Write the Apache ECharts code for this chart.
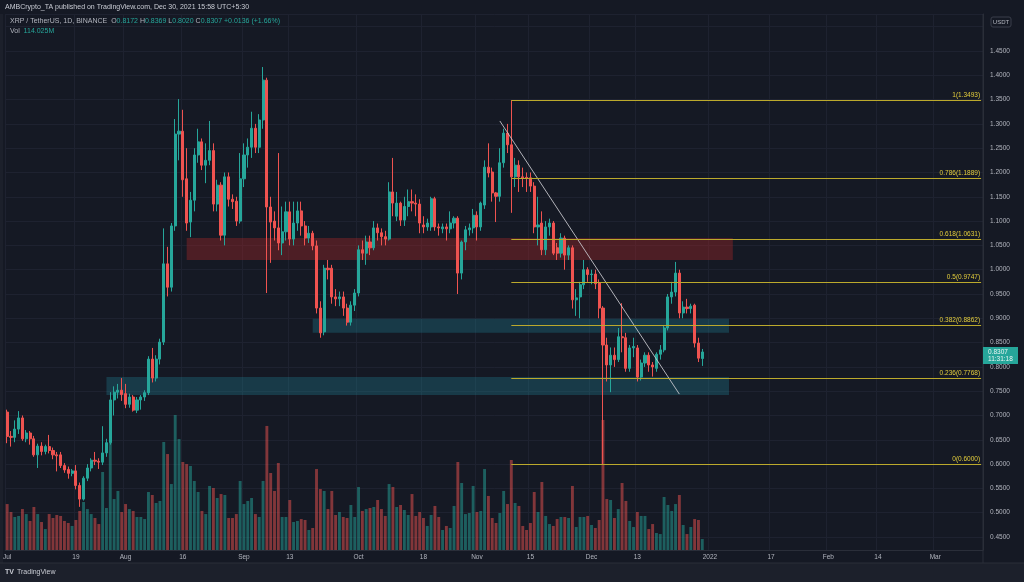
<!DOCTYPE html>
<html>
<head>
<meta charset="utf-8">
<script src="https://cdn.jsdelivr.net/npm/echarts@6/dist/echarts.min.js"></script>
<style>
html,body{margin:0;padding:0;background:#151924;}
#chart{width:1024px;height:582px;}
</style>
</head>
<body>
<div id="chart"></div>
<script>
// ---- categories ----
const startDate = '2021-07-01';
const dayCount = 256;

// ---- x tick labels ----
const tickLabels = [
  ['2021-07-01','Jul'],['2021-07-19','19'],['2021-08-01','Aug'],['2021-08-16','16'],
  ['2021-09-01','Sep'],['2021-09-13','13'],['2021-10-01','Oct'],['2021-10-18','18'],
  ['2021-11-01','Nov'],['2021-11-15','15'],['2021-12-01','Dec'],['2021-12-13','13'],
  ['2022-01-01','2022'],['2022-01-17','17'],['2022-02-01','Feb'],['2022-02-14','14'],
  ['2022-03-01','Mar']
];

// ---- OHLC (XRP/USDT daily from 2021-07-01) ----
const opens = [
0.707,0.657,0.655,0.672,0.695,0.652,0.664,0.652,0.619,0.637,
0.626,0.636,0.628,0.619,0.619,0.597,0.589,0.581,0.586,0.556,
0.528,0.571,0.592,0.608,0.606,0.604,0.623,0.644,0.732,0.748,
0.752,0.745,0.723,0.738,0.711,0.732,0.738,0.747,0.816,0.777,
0.816,0.851,1.012,0.964,1.090,1.279,1.285,1.187,1.098,1.143,
1.236,1.263,1.215,1.225,1.245,1.135,1.174,1.071,1.191,1.145,
1.141,1.100,1.187,1.236,1.252,1.291,1.252,1.308,1.390,1.129,
1.100,1.086,1.055,1.078,1.119,1.063,1.096,1.121,1.090,1.065,
1.075,1.049,0.921,0.872,1.003,1.003,0.944,0.940,0.944,0.921,
0.892,0.927,0.952,1.041,1.034,1.057,1.045,1.086,1.076,1.068,
1.063,1.160,1.110,1.137,1.102,1.130,1.140,1.137,1.135,1.092,
1.088,1.088,1.146,1.088,1.084,1.088,1.084,1.096,1.106,0.993,
1.057,1.082,1.086,1.112,1.088,1.133,1.211,1.201,1.158,1.151,
1.220,1.281,1.257,1.191,1.215,1.191,1.190,1.189,1.172,1.088,
1.096,1.041,1.088,1.096,1.045,1.034,1.065,1.030,1.045,0.938,
0.944,0.969,1.000,0.990,0.991,0.973,0.921,0.845,0.804,0.824,
0.815,0.862,0.860,0.797,0.839,0.839,0.779,0.808,0.824,0.804,
0.797,0.826,0.835,0.880,0.944,0.954,0.993,0.911,0.923,0.920,
0.927,0.849,0.8172];
const closes = [
0.657,0.655,0.672,0.695,0.652,0.664,0.652,0.619,0.637,0.626,
0.636,0.628,0.619,0.617,0.597,0.588,0.581,0.586,0.556,0.528,
0.571,0.592,0.608,0.606,0.604,0.623,0.644,0.732,0.748,0.752,
0.743,0.723,0.738,0.711,0.732,0.738,0.747,0.816,0.777,0.816,
0.851,1.012,0.964,1.090,1.279,1.285,1.185,1.096,1.143,1.236,
1.263,1.215,1.225,1.245,1.135,1.174,1.071,1.191,1.145,1.140,
1.100,1.187,1.236,1.252,1.291,1.252,1.308,1.390,1.129,1.098,
1.086,1.055,1.078,1.119,1.063,1.096,1.121,1.090,1.065,1.075,
1.049,0.921,0.870,1.003,1.000,0.944,0.940,0.944,0.921,0.892,
0.927,0.952,1.041,1.034,1.057,1.045,1.086,1.076,1.068,1.063,
1.160,1.137,1.137,1.102,1.130,1.140,1.137,1.135,1.096,1.088,
1.096,1.146,1.088,1.086,1.088,1.084,1.096,1.106,0.993,1.057,
1.082,1.086,1.112,1.088,1.137,1.211,1.199,1.158,1.151,1.220,
1.281,1.257,1.191,1.215,1.191,1.189,1.188,1.172,1.088,1.092,
1.041,1.088,1.096,1.034,1.034,1.065,1.030,1.045,0.938,0.942,
0.969,1.000,0.990,0.991,0.971,0.921,0.845,0.804,0.824,0.815,
0.862,0.860,0.797,0.839,0.842,0.779,0.808,0.824,0.804,0.800,
0.826,0.835,0.880,0.944,0.954,0.993,0.911,0.923,0.920,0.925,
0.849,0.818,0.8307];
const lows = [
0.643,0.636,0.645,0.662,0.648,0.645,0.640,0.615,0.592,0.618,
0.620,0.622,0.610,0.585,0.592,0.582,0.570,0.575,0.548,0.512,
0.525,0.565,0.585,0.598,0.590,0.598,0.615,0.640,0.700,0.735,
0.730,0.715,0.716,0.708,0.705,0.712,0.730,0.742,0.768,0.770,
0.805,0.845,0.945,0.955,1.080,1.225,1.150,1.080,1.067,1.120,
1.220,1.205,1.178,1.215,1.120,1.120,1.060,1.050,1.130,1.125,
1.090,1.095,1.170,1.210,1.230,1.240,1.240,1.290,0.952,1.014,
1.060,1.040,1.030,1.060,1.050,1.050,1.080,1.070,1.050,1.055,
1.040,0.910,0.860,0.865,0.980,0.930,0.925,0.925,0.905,0.885,
0.885,0.915,0.945,1.020,1.010,1.030,1.040,1.060,1.050,1.050,
1.060,1.110,1.100,1.090,1.090,1.110,1.120,1.110,1.075,1.075,
1.080,1.080,1.080,1.070,1.075,1.060,1.075,1.085,0.950,0.980,
1.040,1.070,1.075,1.060,1.080,1.125,1.190,1.140,1.098,1.140,
1.210,1.240,1.117,1.170,1.160,1.170,1.160,1.160,1.075,1.050,
1.030,1.030,1.070,1.030,1.020,1.025,1.000,1.020,0.920,0.905,
0.900,0.960,0.975,0.970,0.960,0.900,0.600,0.770,0.748,0.800,
0.810,0.830,0.790,0.790,0.820,0.770,0.772,0.800,0.790,0.780,
0.790,0.815,0.830,0.875,0.930,0.945,0.900,0.900,0.910,0.910,
0.840,0.810,0.8020];
const highs = [
0.712,0.668,0.690,0.709,0.700,0.670,0.668,0.658,0.642,0.645,
0.640,0.660,0.634,0.625,0.625,0.602,0.595,0.590,0.598,0.562,
0.575,0.600,0.612,0.625,0.612,0.678,0.652,0.748,0.760,0.765,
0.777,0.765,0.745,0.742,0.738,0.742,0.752,0.822,0.839,0.824,
0.858,1.085,1.047,1.096,1.310,1.351,1.329,1.250,1.160,1.250,
1.290,1.270,1.260,1.306,1.260,1.185,1.180,1.200,1.200,1.155,
1.150,1.240,1.260,1.270,1.325,1.300,1.320,1.417,1.395,1.150,
1.120,1.240,1.130,1.140,1.140,1.140,1.140,1.140,1.100,1.090,
1.080,1.060,0.935,1.010,1.020,1.010,0.960,0.955,0.955,0.930,
0.935,0.960,1.050,1.060,1.070,1.070,1.100,1.095,1.085,1.080,
1.180,1.230,1.160,1.140,1.150,1.165,1.165,1.155,1.145,1.110,
1.105,1.150,1.150,1.095,1.095,1.095,1.120,1.110,1.110,1.060,
1.090,1.095,1.125,1.120,1.140,1.225,1.260,1.210,1.160,1.250,
1.290,1.300,1.349,1.230,1.225,1.210,1.200,1.200,1.180,1.150,
1.120,1.100,1.105,1.100,1.055,1.075,1.070,1.050,1.050,0.960,
0.975,1.020,1.005,1.000,1.000,0.980,0.925,0.860,0.840,0.840,
0.880,0.931,0.870,0.845,0.860,0.845,0.815,0.830,0.830,0.810,
0.830,0.845,0.885,0.950,0.975,1.016,1.000,0.935,0.940,0.930,
0.930,0.860,0.8369];
// volume in millions of XRP
const volumes = [
478,395,343,354,426,374,302,447,374,291,
218,374,333,364,354,302,281,250,312,406,
499,426,374,333,270,811,437,1113,530,614,
395,478,426,406,343,343,322,603,572,489,
510,1123,998,686,1404,1154,915,894,874,718,
603,406,374,666,645,541,582,572,333,333,
374,718,478,510,541,374,343,718,1290,801,
614,905,343,343,520,291,302,322,312,208,
229,842,634,614,426,614,364,395,343,333,
468,343,655,406,426,437,447,520,426,354,
686,655,447,468,416,364,582,354,395,333,
250,364,458,343,208,250,229,458,915,697,
374,385,666,395,406,842,562,333,281,385,
614,478,936,489,458,250,208,281,603,395,
707,354,270,250,322,343,343,333,666,239,
343,343,354,260,229,312,1352,530,520,333,
426,697,510,302,239,395,354,354,218,270,
177,166,551,468,406,478,572,260,166,239,
322,312,114];

// ---- Fibonacci retracement ----
const fibRatios = ['1','0.786','0.618','0.5','0.382','0.236','0'];
const fibPrices = [1.3493,1.1889,1.0631,0.9747,0.8862,0.7768,0.6000];
const fibStart = '2021-11-10';
const fibEnd = '2022-03-13';

// ---- zones ----
const zoneNames = ['resistance','upperSupport','lowerSupport'];
const zoneFrom = ['2021-08-17','2021-09-19','2021-07-27'];
const zoneTo = ['2022-01-07','2022-01-06','2022-01-06'];
const zoneLow = [1.020,0.870,0.742];
const zoneHigh = [1.065,0.899,0.779];

// ---- trendline ----
const trendDates = ['2021-11-07','2021-12-24'];
const trendPrices = [1.306,0.744];

// ---- header ----
const lastBar = {o:'0.8172', h:'0.8369', l:'0.8020', c:'0.8307', chg:'+0.0136 (+1.66%)', vol:'114.025M', timer:'11:31:18'};

// build categories
const categories = [];
(function(){
  const p = startDate.split('-').map(Number);
  const t0 = Date.UTC(p[0], p[1]-1, p[2]);
  for (let i = 0; i < dayCount; i++) {
    const d = new Date(t0 + i*86400000);
    const s = d.getUTCFullYear() + '-' + String(d.getUTCMonth()+1).padStart(2,'0') + '-' + String(d.getUTCDate()).padStart(2,'0');
    categories.push(s);
  }
})();
const labelMap = {};
tickLabels.forEach(t => labelMap[t[0]] = t[1]);

const UP = '#26a69a', DOWN = '#ef5350';
const candleData = opens.map((o,i) => [o, closes[i], lows[i], highs[i]]);
const volData = volumes.map((v,i) => ({
  value: v,
  itemStyle: {color: closes[i] >= opens[i] ? 'rgba(38,166,154,0.5)' : 'rgba(239,83,80,0.5)'}
}));

const FONT = 'Liberation Sans';
const AXIS_TXT = '#b2b5be';
const FIB_LINE = '#bba92c';
const FIB_TXT = '#e3cd3c';

const fibLines = fibPrices.map((p,i) => [
  {coord:[fibStart, p], label:{formatter: fibRatios[i] + '(' + p.toFixed(4) + ')'}},
  {coord:[fibEnd, p]}
]);

const zoneColors = ['rgba(178,40,40,0.36)','rgba(30,130,150,0.32)','rgba(30,130,150,0.32)'];
const zoneData = zoneNames.map((n,i) => [
  {xAxis: zoneFrom[i], yAxis: zoneHigh[i], itemStyle:{color: zoneColors[i]}},
  {xAxis: zoneTo[i], yAxis: zoneLow[i]}
]);

const chart = echarts.init(document.getElementById('chart'), null, {renderer:'canvas'});
const option = {
  backgroundColor: '#151924',
  animation: false,
  grid: {left: 4, right: 41, top: 14, bottom: 32, show: false},
  xAxis: {
    type: 'category',
    data: categories,
    boundaryGap: true,
    axisLine: {show: true, lineStyle: {color: '#2a2e39'}},
    axisTick: {show: false},
    axisLabel: {
      interval: (idx, val) => labelMap[val] !== undefined,
      formatter: val => labelMap[val] || '',
      color: AXIS_TXT, fontSize: 6.5, fontFamily: FONT, margin: 4
    },
    splitLine: {show: true, interval: (idx, val) => labelMap[val] !== undefined, lineStyle: {color: '#1e2230', width: 1}}
  },
  yAxis: [{
    type: 'value',
    position: 'right',
    scale: true,
    min: 0.42325,
    max: 1.5261,
    splitNumber: 22,
    axisLine: {show: true, lineStyle: {color: '#2a2e39'}},
    axisTick: {show: false},
    axisLabel: {
      showMinLabel: false, showMaxLabel: false,
      formatter: v => v.toFixed(4),
      color: AXIS_TXT, fontSize: 6.5, fontFamily: FONT, margin: 7, align: 'left'
    },
    splitLine: {show: true, lineStyle: {color: '#1e2230', width: 1}}
  }, {
    type: 'value',
    min: 0, max: 5574,
    show: false,
    splitLine: {show: false}
  }],
  series: [
    {
      name: 'Volume', type: 'bar', xAxisIndex: 0, yAxisIndex: 1,
      data: volData, barWidth: '76%', z: 1, silent: true
    },
    {
      name: 'XRP', type: 'candlestick', yAxisIndex: 0,
      data: candleData, barWidth: '68%', z: 2,
      itemStyle: {color: UP, color0: DOWN, borderColor: UP, borderColor0: DOWN, borderWidth: 1}
    },
    {
      name: 'Trend', type: 'line', yAxisIndex: 0, z: 4,
      data: [[trendDates[0], trendPrices[0]], [trendDates[1], trendPrices[1]]],
      symbol: 'none',
      lineStyle: {color: 'rgba(205,205,210,0.85)', width: 1},
      markArea: {silent: true, data: zoneData}
    },
    {
      name: 'Fib', type: 'line', yAxisIndex: 0, z: 5, data: [],
      markLine: {
        silent: true, symbol: ['none','none'],
        lineStyle: {color: FIB_LINE, width: 1, type: 'solid'},
        label: {show: true, position: 'insideEndTop', color: FIB_TXT, fontSize: 6.5, fontFamily: FONT, distance: [1, 1]},
        data: fibLines
      }
    }
  ]
};
chart.setOption(option);

// overlay texts
const py = chart.convertToPixel({yAxisIndex: 0}, parseFloat(lastBar.c));
chart.setOption({
  graphic: [
    {type:'text', left: 5, top: 4, z: 100, style:{text:'AMBCrypto_TA published on TradingView.com, Dec 30, 2021 15:58 UTC+5:30', fill:'#c9ccd4', fontSize: 7, fontFamily: FONT}},
    {type:'text', left: 10, top: 18, z: 100, style:{
      text: '{a|XRP / TetherUS, 1D, BINANCE}  {a|O}{b|' + lastBar.o + '} {a|H}{b|' + lastBar.h + '} {a|L}{b|' + lastBar.l + '} {a|C}{b|' + lastBar.c + '} {b|' + lastBar.chg + '}',
      fontSize: 7, fontFamily: FONT,
      rich: {a:{fill:'#b2b5be', fontSize: 7, fontFamily: FONT}, b:{fill: UP, fontSize: 7, fontFamily: FONT}}
    }},
    {type:'text', left: 10, top: 28, z: 100, style:{
      text: '{a|Vol}  {b|' + lastBar.vol + '}', fontSize: 7, fontFamily: FONT,
      rich: {a:{fill:'#b2b5be', fontSize: 7, fontFamily: FONT}, b:{fill: UP, fontSize: 7, fontFamily: FONT}}
    }},
    // left plot border
    {type:'rect', shape:{x: 0, y: 14, width: 3, height: 549}, z: 90, style:{fill:'#1c202b'}},
    // USDT badge (covers the top label like the original)
    {type:'rect', shape:{x: 985, y: 15, width: 39, height: 16}, z: 99, style:{fill:'#151924'}},
    {type:'rect', shape:{x: 991, y: 17, width: 20, height: 10, r: 2}, z: 100, style:{fill:'#151924', stroke:'#3a3e4a', lineWidth: 1}},
    {type:'text', x: 1001, y: 22, z: 101, style:{text:'USDT', fill:'#b2b5be', fontSize: 6, fontFamily: FONT, align:'center', verticalAlign:'middle'}},
    // last price badge
    {type:'rect', shape:{x: 983, y: py - 5, width: 35, height: 17}, z: 100, style:{fill: UP}},
    {type:'text', x: 988, y: py + 0.5, z: 101, style:{text: lastBar.c, fill:'#e8f6f4', fontSize: 6.5, fontFamily: FONT, verticalAlign:'middle'}},
    {type:'text', x: 988, y: py + 7.5, z: 101, style:{text: lastBar.timer, fill:'#e8f6f4', fontSize: 6.5, fontFamily: FONT, verticalAlign:'middle'}},
    // bottom band
    {type:'rect', shape:{x: 0, y: 563, width: 1024, height: 19}, z: 90, style:{fill:'#1c202b'}},
    {type:'line', shape:{x1: 0, y1: 563, x2: 1024, y2: 563}, z: 91, style:{stroke:'#2a2e39', lineWidth: 1}},
    {type:'line', shape:{x1: 983, y1: 14, x2: 983, y2: 563}, z: 91, style:{stroke:'#2a2e39', lineWidth: 1}},
    {type:'text', x: 5, y: 572, z: 100, style:{text:'TV', fill:'#c9ccd4', fontSize: 7, fontWeight:'bold', fontFamily: FONT, verticalAlign:'middle'}},
    {type:'text', x: 17, y: 572, z: 100, style:{text:'TradingView', fill:'#c9ccd4', fontSize: 7, fontFamily: FONT, verticalAlign:'middle'}}
  ]
});
</script>
</body>
</html>
